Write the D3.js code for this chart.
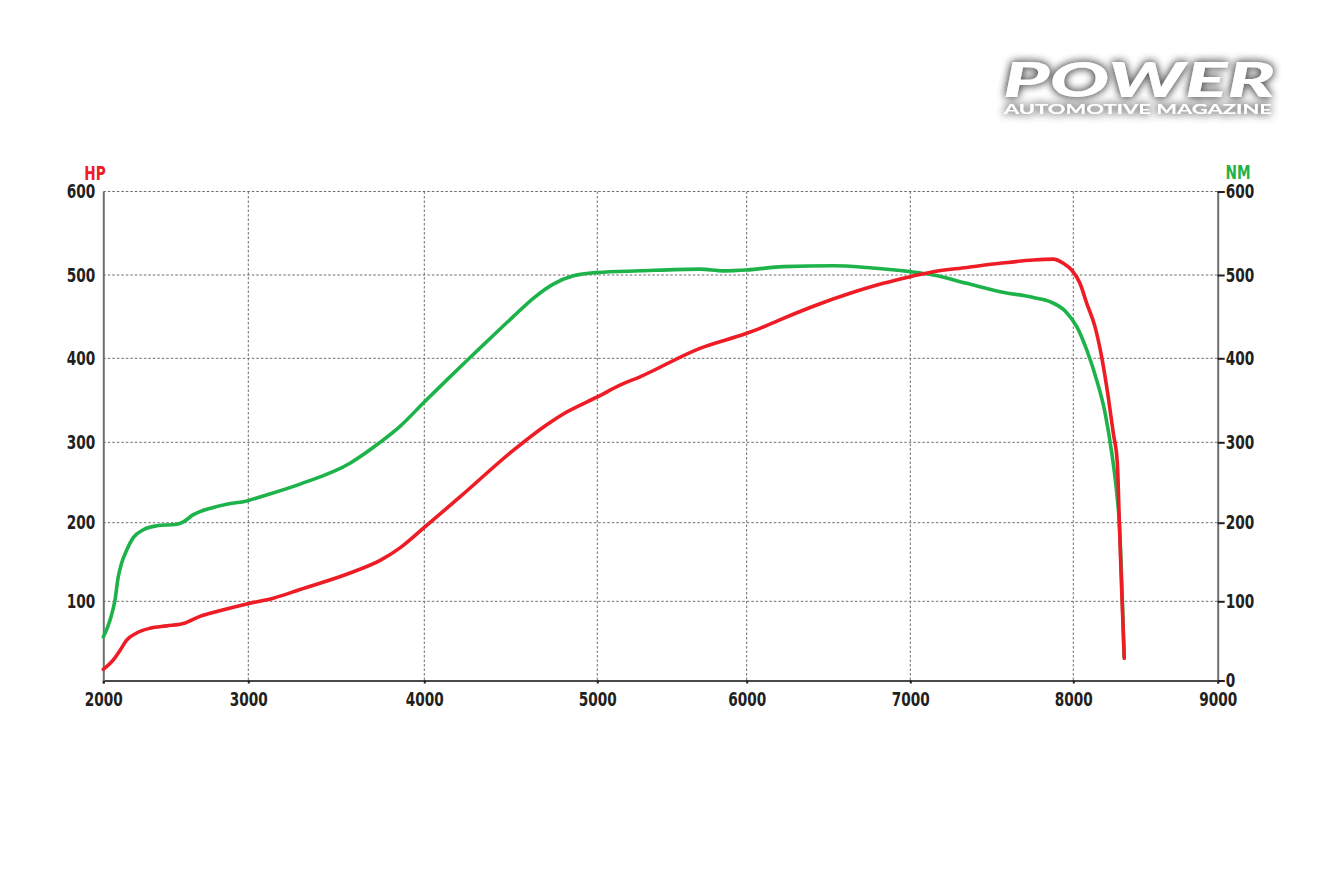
<!DOCTYPE html>
<html>
<head>
<meta charset="utf-8">
<script src="https://cdn.jsdelivr.net/npm/d3@7"></script>
<style>
  html, body { margin: 0; padding: 0; background: #ffffff; }
  svg { display: block; }
  .lbl { font-family: "DejaVu Sans Condensed", "DejaVu Sans", sans-serif; font-weight: bold; }
</style>
</head>
<body>
<svg id="chart" width="1340" height="892"></svg>
<script>
// ---- data ----
const rpmTicks = [2000, 3000, 4000, 5000, 6000, 7000, 8000, 9000];
const valueTicks = [0, 100, 200, 300, 400, 500, 600];

const rpmNm = [2000,2046,2081,2103,2127,2161,2207,2276,2368,2506,2552,2621,2759,2851,2989,3066,3294,3578,3749,3862,4000,4129,4245,4361,4514,4630,4746,4861,5000,5286,5687,5843,6000,6224,6529,6734,7000,7141,7346,7550,7755,7857,7954,8024,8093,8162,8220,8267,8301,8319,8352];
const nm    = [55,76,102,131,149,165,181,191,196,198,201,210,219,223,227,232,248,274,300,319,348,374,397,420,450,472,489,499,503,505,507,505,506,510,511,509,504,500,490,480,473,468,456,438,410,374,335,286,237,199,30];

const rpmHp = [2000,2069,2115,2161,2230,2322,2437,2552,2667,2782,2996,3142,3294,3578,3749,3862,4000,4206,4514,4708,4823,5000,5152,5286,5687,6000,6081,6224,6428,6632,6835,7000,7141,7346,7550,7755,7877,7939,7990,8046,8093,8150,8196,8242,8277,8305,8319,8335,8353];
const hp    = [14,26,38,51,60,66,69,72,81,87,97,104,115,136,152,168,194,232,290,321,336,354,368,378,412,430,436,448,464,478,490,498,504,509,514,518,519,514,506,490,466,438,402,354,311,274,199,114,28];

// ---- layout ----
const RED = "#ee1c25", GREEN = "#1db34a", INK = "#231f20";
const SX = 0.8; // horizontal squeeze to imitate the condensed label face
const svg = d3.select("#chart");

// the printed chart has unevenly spaced gridlines: piecewise-linear scales
const x = d3.scaleLinear().domain(rpmTicks)
  .range([103.3, 248.3, 424.3, 597.3, 746.7, 910.3, 1073.3, 1217.7]);
const y = d3.scaleLinear().domain(valueTicks)
  .range([680.5, 601.3, 522.7, 442.3, 358.3, 275, 191.5]);

// gridlines
const grid = svg.append("g");
grid.selectAll("line.h").data(valueTicks.filter(v => v > 0)).join("line")
  .attr("x1", x(2000)).attr("x2", x(9000))
  .attr("y1", d => y(d)).attr("y2", d => y(d))
  .attr("stroke", "#6d6d6d").attr("stroke-width", 1).attr("stroke-dasharray", "2.5,2");
grid.selectAll("line.v").data(rpmTicks.slice(1, -1)).join("line")
  .attr("x1", d => x(d)).attr("x2", d => x(d))
  .attr("y1", y(600)).attr("y2", y(0))
  .attr("stroke", "#6d6d6d").attr("stroke-width", 1).attr("stroke-dasharray", "2.5,2");

// axes
const fmt = d3.format("d");
const gx = svg.append("g").attr("transform", `translate(0,${y(0)})`)
  .call(d3.axisBottom(x).tickValues(rpmTicks).tickFormat(fmt).tickSize(3).tickPadding(6));
const gl = svg.append("g").attr("transform", `translate(${x(2000)},0)`)
  .call(d3.axisLeft(y).tickValues(valueTicks.filter(v => v > 0)).tickFormat(fmt).tickSize(0).tickPadding(8));
const gr = svg.append("g").attr("transform", `translate(${x(9000)},0)`)
  .call(d3.axisRight(y).tickValues(valueTicks).tickFormat(fmt).tickSize(7).tickPadding(1));

[gx, gl, gr].forEach(g => {
  g.select(".domain").attr("stroke", "#6f6f6f").attr("stroke-width", 2);
  g.selectAll(".tick line").attr("stroke", INK).attr("stroke-width", 2);
  g.selectAll("text").attr("class", "lbl").attr("fill", INK).attr("font-size", 19)
    .each(function () {
      const t = d3.select(this);
      const x0 = +t.attr("x") || 0;
      t.attr("x", x0 / SX).attr("transform", `scale(${SX},1)`);
    });
});
gx.select(".domain").attr("stroke", "#4a4a4a");
gx.selectAll("text").attr("dy", "0.85em");

// axis titles
svg.append("text").attr("class", "lbl").attr("x", 95 / SX).attr("y", 180)
  .attr("transform", `scale(${SX},1)`)
  .attr("text-anchor", "middle").attr("fill", RED).attr("font-size", 19).text("HP");
svg.append("text").attr("class", "lbl").attr("x", 1238 / SX).attr("y", 179)
  .attr("transform", `scale(${SX},1)`)
  .attr("text-anchor", "middle").attr("fill", GREEN).attr("font-size", 19).text("NM");

// curves
const line = d3.line().curve(d3.curveMonotoneX);
const nmPts = rpmNm.map((r, i) => [x(r), y(nm[i])]);
const hpPts = rpmHp.map((r, i) => [x(r), y(hp[i])]);
svg.append("path").attr("d", line(nmPts)).attr("fill", "none")
  .attr("stroke", GREEN).attr("stroke-width", 3.6).attr("stroke-linejoin", "round").attr("stroke-linecap", "round");
svg.append("path").attr("d", line(hpPts)).attr("fill", "none")
  .attr("stroke", RED).attr("stroke-width", 3.6).attr("stroke-linejoin", "round").attr("stroke-linecap", "round");

// logo
const defs = svg.append("defs");
const f = defs.append("filter").attr("id", "glow").attr("x", "-20%").attr("y", "-60%").attr("width", "140%").attr("height", "220%");
f.append("feGaussianBlur").attr("in", "SourceAlpha").attr("stdDeviation", 4.5).attr("result", "b");
f.append("feFlood").attr("flood-color", "#555555").attr("flood-opacity", 0.9).attr("result", "c");
f.append("feComposite").attr("in", "c").attr("in2", "b").attr("operator", "in").attr("result", "s");
const m = f.append("feMerge");
m.append("feMergeNode").attr("in", "s");
m.append("feMergeNode").attr("in", "s");
m.append("feMergeNode").attr("in", "SourceGraphic");

const logo = svg.append("g").attr("filter", "url(#glow)");
logo.append("text").attr("x", 1003).attr("y", 97)
  .attr("font-family", "Lato, 'Open Sans', sans-serif").attr("font-weight", 900).attr("font-style", "italic")
  .attr("font-size", 48).attr("fill", "#ffffff")
  .attr("textLength", 272).attr("lengthAdjust", "spacingAndGlyphs").text("POWER");
logo.append("text").attr("x", 1004).attr("y", 114)
  .attr("font-family", "Lato, 'Open Sans', sans-serif").attr("font-weight", 700)
  .attr("font-size", 13).attr("fill", "#ffffff")
  .attr("textLength", 268).attr("lengthAdjust", "spacingAndGlyphs").text("AUTOMOTIVE MAGAZINE");
</script>
</body>
</html>
